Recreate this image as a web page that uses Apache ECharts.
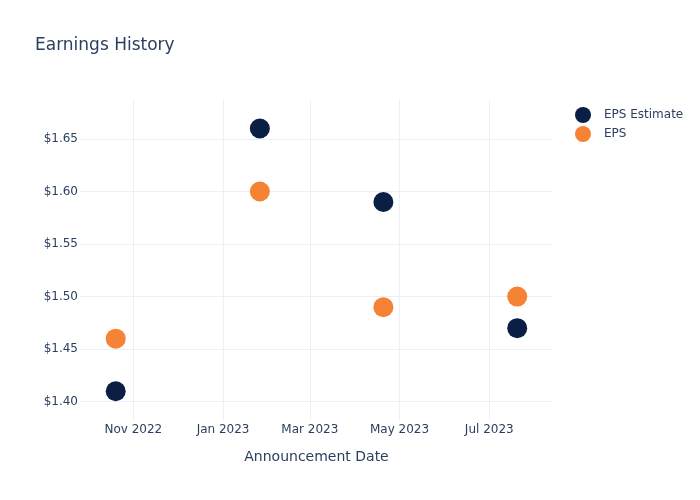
<!DOCTYPE html>
<html>
<head>
<meta charset="utf-8">
<script src="https://cdn.jsdelivr.net/npm/echarts@6/dist/echarts.min.js"></script>
<style>html,body{margin:0;padding:0;background:#fff}#c{width:700px;height:500px}</style>
</head>
<body>
<div id="c"></div>
<script>
const dates = ['2022-10-20', '2023-01-26', '2023-04-20', '2023-07-20'];
const epsEstimate = [1.41, 1.66, 1.59, 1.47];
const eps = [1.46, 1.60, 1.49, 1.50];
const seriesNames = ['EPS Estimate', 'EPS'];
const months = ['Jan','Feb','Mar','Apr','May','Jun','Jul','Aug','Sep','Oct','Nov','Dec'];

const font = 'DejaVu Sans';
const textColor = '#2a3f5f';
const gridColor = '#ebf0f8';

const chart = echarts.init(document.getElementById('c'), null, {renderer: 'canvas'});
chart.setOption({
  animation: false,
  backgroundColor: '#ffffff',
  textStyle: {fontFamily: font},
  title: {
    text: 'Earnings History',
    left: 30, top: 32,
    textStyle: {fontFamily: font, fontSize: 17, fontWeight: 'normal', color: textColor}
  },
  legend: {
    orient: 'vertical',
    left: 575, top: 107,
    padding: 0,
    icon: 'circle',
    itemWidth: 16, itemHeight: 16, itemGap: 3,
    textStyle: {fontFamily: font, fontSize: 12, color: textColor, padding: [0,0,0,8]},
    data: seriesNames
  },
  grid: {left: 80, right: 147, top: 100, bottom: 80, containLabel: false},
  xAxis: {
    type: 'time',
    min: '2022-09-25T17:00:00',
    max: '2023-08-13T08:00:00',
    splitNumber: 5,
    name: 'Announcement Date',
    nameLocation: 'middle',
    nameGap: 30,
    nameTextStyle: {fontFamily: font, fontSize: 14, color: textColor},
    axisLine: {show: false},
    axisTick: {show: false},
    axisLabel: {
      fontFamily: font, fontSize: 12, color: textColor, margin: 4,
      showMinLabel: false, showMaxLabel: false,
      formatter: function (v) { const d = new Date(v); return months[d.getMonth()] + ' ' + d.getFullYear(); }
    },
    splitLine: {show: true, showMinLine: false, showMaxLine: false, lineStyle: {color: gridColor, width: 1}}
  },
  yAxis: {
    type: 'value',
    min: 1.3826,
    max: 1.6871,
    splitNumber: 5,
    axisLine: {show: false},
    axisTick: {show: false},
    axisLabel: {
      fontFamily: font, fontSize: 12, color: textColor, margin: 2,
      showMinLabel: false, showMaxLabel: false,
      formatter: function (v) { return '$' + v.toFixed(2); }
    },
    splitLine: {show: true, showMinLine: false, showMaxLine: false, lineStyle: {color: gridColor, width: 1}}
  },
  series: [
    {
      name: seriesNames[0], type: 'scatter', symbol: 'circle', symbolSize: 20,
      itemStyle: {color: '#0b1f44', opacity: 1},
      data: dates.map((d, i) => [d, epsEstimate[i]])
    },
    {
      name: seriesNames[1], type: 'scatter', symbol: 'circle', symbolSize: 20,
      itemStyle: {color: '#f68236', opacity: 1},
      data: dates.map((d, i) => [d, eps[i]])
    }
  ]
});
</script>
</body>
</html>
